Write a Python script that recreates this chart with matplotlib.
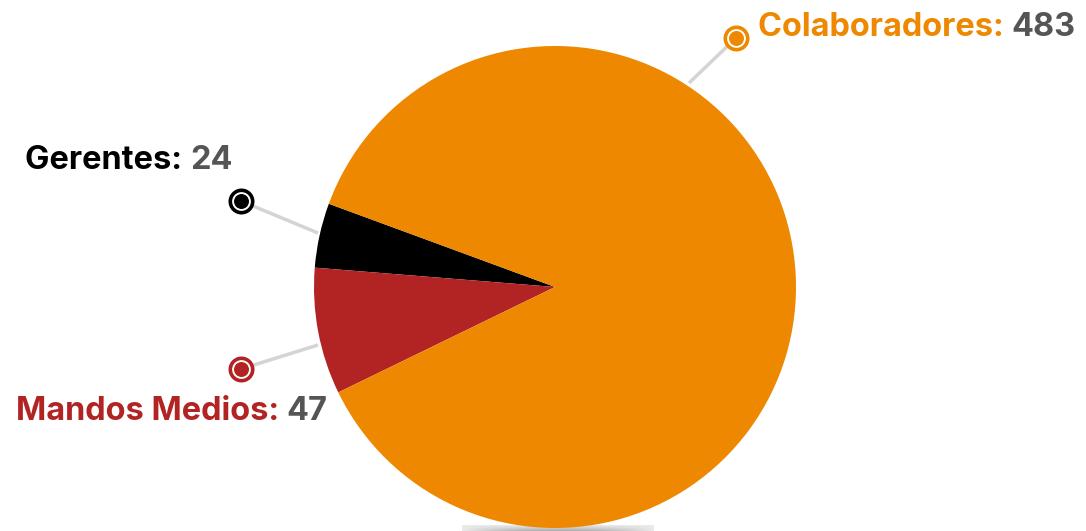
import numpy as np
import matplotlib.pyplot as plt

# datos
categorias = ['Gerentes', 'Mandos Medios', 'Colaboradores']
valores = [24, 47, 483]
colores = ['#000000', '#B22424', '#EE8800']

# posiciones de las etiquetas (en píxeles, y hacia abajo)
marcadores = [(241, 201), (241, 369), (736, 38)]
bordes = [(318, 233), (318, 345), (689, 83)]
textos = [(25, 157), (16, 408), (758, 24)]

W, H = 1086, 531
fig = plt.figure(figsize=(W / 100, H / 100), dpi=100)
ax = fig.add_axes([0, 0, 1, 1])

# sombra bajo el pie
gx = np.linspace(-1, 1, 200)
gy = np.linspace(0, 1, 20)
GX, GY = np.meshgrid(gx, gy)
sombra = 0.92 - 0.25 * (1 - np.abs(GX) ** 2) * (1 - GY)
ax.imshow(sombra, cmap='gray', vmin=0, vmax=1, extent=(462, 654, 0, 6),
          origin='lower', aspect='auto', zorder=0)

# pie: Gerentes empieza en ~159.8 grados
ax.pie(valores, colors=colores, startangle=159.8, counterclock=True,
       center=(555, H - 287), radius=241, frame=True,
       wedgeprops=dict(linewidth=0))
ax.set_xlim(0, W)
ax.set_ylim(0, H)
ax.set_aspect('equal')
ax.axis('off')

fuente = 'Inter'
for cat, val, col, m, b, t in zip(categorias, valores, colores, marcadores, bordes, textos):
    ax.plot([b[0], m[0]], [H - b[1], H - m[1]], color='#d4d4d4', lw=2.5, zorder=3,
            solid_capstyle='butt')
    ax.scatter([m[0]], [H - m[1]], s=260, facecolor='white', edgecolor=col,
               linewidth=2.6, zorder=4)
    ax.scatter([m[0]], [H - m[1]], s=95, color=col, zorder=5)
    txt = ax.text(t[0], H - t[1], cat + ': ', color=col, fontsize=23.4,
                  fontweight='bold', family=fuente, va='center_baseline', ha='left')
    fig.canvas.draw()
    bb = txt.get_window_extent()
    ax.text(bb.x1, H - t[1], str(val), color='#555555', fontsize=23.4,
            fontweight='bold', family=fuente, va='center_baseline', ha='left')

fig.savefig('out.png', dpi=100)
